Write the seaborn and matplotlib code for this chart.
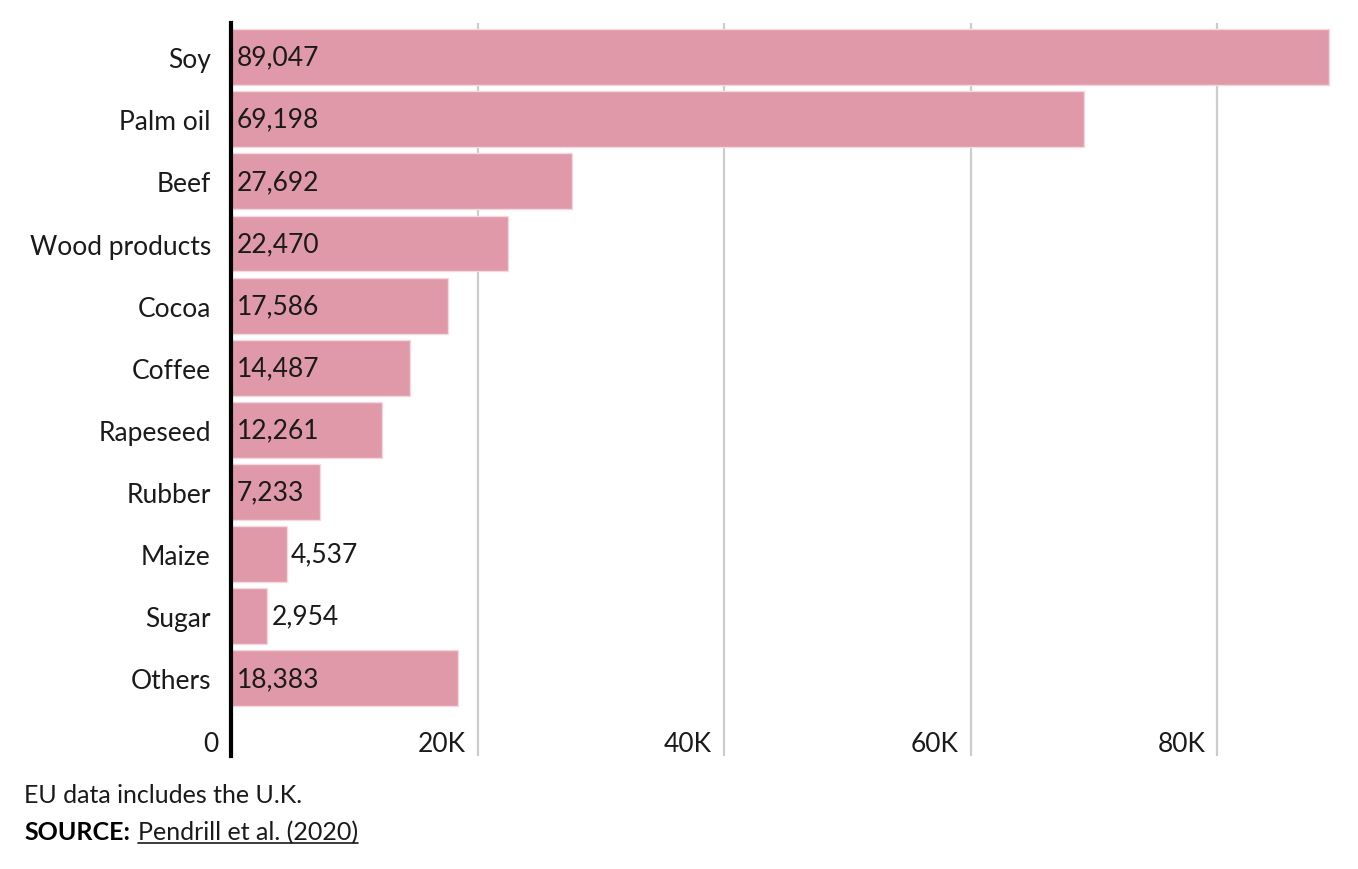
import matplotlib
matplotlib.use("Agg")
import matplotlib.pyplot as plt
import matplotlib.transforms as mtransforms
from matplotlib.lines import Line2D
import seaborn as sns
import pandas as pd

# ------------------------------------------------------------
# data
# ------------------------------------------------------------
categories = ["Soy", "Palm oil", "Beef", "Wood products", "Cocoa", "Coffee",
              "Rapeseed", "Rubber", "Maize", "Sugar", "Others"]
values = [89047, 69198, 27692, 22470, 17586, 14487, 12261, 7233, 4537, 2954, 18383]
x_ticks = [0, 20000, 40000, 60000, 80000]
x_tick_labels = ["0", "20K", "40K", "60K", "80K"]

df = pd.DataFrame({"commodity": categories, "value": values})

BAR_COLOR = "#E099A8"
TEXT_COLOR = "#1a1a1a"
FONT = "Lato"

sns.set_style("white")
plt.rcParams["font.family"] = [FONT, "DejaVu Sans"]

W, H = 1358, 870
fig = plt.figure(figsize=(W / 100, H / 100), dpi=100)
ax = fig.add_axes([231 / W, (H - 757) / H, (1332 - 231) / W, (757 - 24) / H])

sns.barplot(data=df, x="value", y="commodity", orient="h", color=BAR_COLOR,
            saturation=1, width=0.9, edgecolor="#f3d9df", linewidth=1, ax=ax)

ax.set_xlim(0, 89300)
ax.set_ylim(11.25, -0.55)
ax.set_xlabel("")
ax.set_ylabel("")

# grid + spines
ax.set_axisbelow(True)
ax.set_xticks(x_ticks)
ax.xaxis.grid(True, color="#cccccc", linewidth=1.6)
ax.yaxis.grid(False)
for side in ["top", "right", "bottom"]:
    ax.spines[side].set_visible(False)
ax.spines["left"].set_color("black")
ax.spines["left"].set_linewidth(3)
ax.spines["left"].set_zorder(5)

# tick labels
ax.tick_params(axis="y", length=0, pad=14.5, labelsize=19, labelcolor=TEXT_COLOR)
ax.tick_params(axis="x", length=0, pad=-18, labelsize=19, labelcolor=TEXT_COLOR)
ax.set_xticklabels(x_tick_labels)
shift = mtransforms.ScaledTranslation(-12 / 100, 0, fig.dpi_scale_trans)
for lbl in ax.get_xticklabels():
    lbl.set_ha("right")
    lbl.set_transform(lbl.get_transform() + shift)

# value labels: inside the bar if they fit, else just past its end
fig.canvas.draw()
renderer = fig.canvas.get_renderer()
inside = mtransforms.ScaledTranslation(6 / 100, 0, fig.dpi_scale_trans)
outside = mtransforms.ScaledTranslation(4 / 100, 0, fig.dpi_scale_trans)
for patch, val in zip(ax.patches, values):
    yc = patch.get_y() + patch.get_height() / 2
    t = ax.text(0, yc, f"{val:,}", ha="left", va="center", fontsize=19,
                color=TEXT_COLOR, transform=ax.transData + inside)
    bb_text = t.get_window_extent(renderer)
    bb_bar = patch.get_window_extent(renderer)
    if bb_text.x1 + 4 > bb_bar.x1:
        t.set_x(val)
        t.set_transform(ax.transData + outside)

# footnotes
fig.text(24 / W, 1 - 796 / H, "EU data includes the U.K.", fontsize=18,
         color=TEXT_COLOR, va="center", ha="left")
src = fig.text(24 / W, 1 - 833 / H, "SOURCE:", fontsize=18, fontweight="bold",
               color="black", va="center", ha="left")
fig.canvas.draw()
bb = src.get_window_extent(renderer).transformed(fig.transFigure.inverted())
ref = fig.text(bb.x1 + 8 / W, 1 - 833 / H, "Pendrill et al. (2020)", fontsize=18,
               color=TEXT_COLOR, va="center", ha="left")
fig.canvas.draw()
rb = ref.get_window_extent(renderer).transformed(fig.transFigure.inverted())
fig.add_artist(Line2D([rb.x0, rb.x1], [rb.y0 + 1 / H, rb.y0 + 1 / H],
                      transform=fig.transFigure, color=TEXT_COLOR, linewidth=1.2))

fig.savefig("out.png", dpi=100)
